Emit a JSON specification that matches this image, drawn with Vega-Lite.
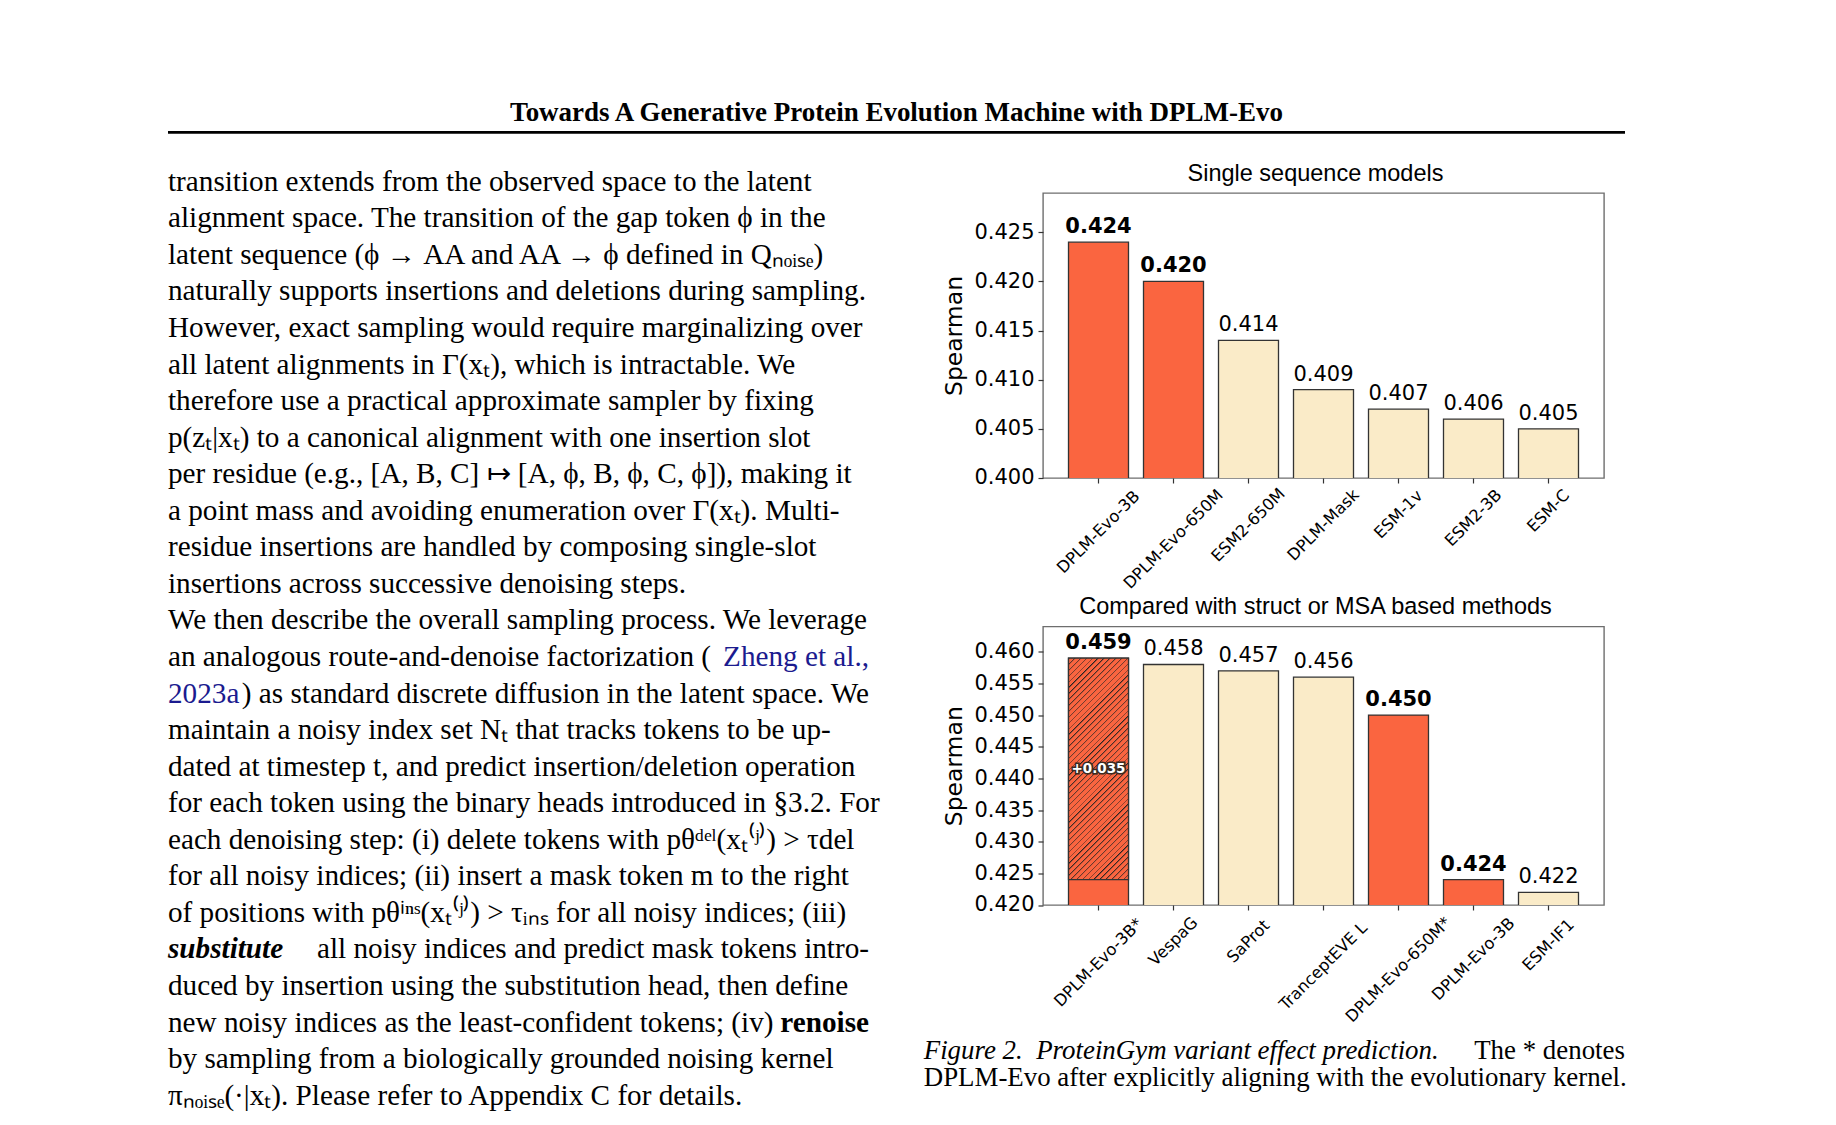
{
  "$schema": "https://vega.github.io/schema/vega-lite/v6.json",
  "autosize": {"type": "pad"},
  "padding": {"left": 166, "top": 92.3, "right": 10, "bottom": 10},
  "background": "white",
  "datasets": {
    "header": [{"text": "Towards A Generative Protein Evolution Machine with DPLM-Evo"}],
    "bodyLeft": [
      {"line": 1, "text": "transition extends from the observed space to the latent"},
      {"line": 2, "text": "alignment space. The transition of the gap token ϕ in the"},
      {"line": 3, "text": "latent sequence (ϕ → AA and AA → ϕ defined in Qₙₒᵢₛₑ)"},
      {"line": 4, "text": "naturally supports insertions and deletions during sampling."},
      {"line": 5, "text": "However, exact sampling would require marginalizing over"},
      {"line": 6, "text": "all latent alignments in Γ(xₜ), which is intractable.  We"},
      {"line": 7, "text": "therefore use a practical approximate sampler by fixing"},
      {"line": 8, "text": "p(zₜ|xₜ) to a canonical alignment with one insertion slot"},
      {"line": 9, "text": "per residue (e.g., [A, B, C] ↦ [A, ϕ, B, ϕ, C, ϕ]), making it"},
      {"line": 10, "text": "a point mass and avoiding enumeration over Γ(xₜ). Multi-"},
      {"line": 11, "text": "residue insertions are handled by composing single-slot"},
      {"line": 12, "text": "insertions across successive denoising steps."},
      {"line": 13, "text": "We then describe the overall sampling process. We leverage"},
      {"line": 14, "text": "an analogous route-and-denoise factorization ("},
      {"line": 16, "text": "maintain a noisy index set Nₜ that tracks tokens to be up-"},
      {"line": 17, "text": "dated at timestep t, and predict insertion/deletion operation"},
      {"line": 18, "text": "for each token using the binary heads introduced in §3.2. For"},
      {"line": 19, "text": "each denoising step: (i) delete tokens with pθᵈᵉˡ(xₜ⁽ʲ⁾) > τdel"},
      {"line": 20, "text": "for all noisy indices; (ii) insert a mask token m to the right"},
      {"line": 21, "text": "of positions with pθⁱⁿˢ(xₜ⁽ʲ⁾) > τᵢₙₛ for all noisy indices; (iii)"},
      {"line": 23, "text": "duced by insertion using the substitution head, then define"},
      {"line": 24, "text": "new noisy indices as the least-confident tokens; (iv)"},
      {"line": 25, "text": "by sampling from a biologically grounded noising kernel"},
      {"line": 26, "text": "πₙₒᵢₛₑ(·|xₜ). Please refer to Appendix C for details."}
    ],
    "bodyRight": [
      {"line": 15, "text": ") as standard discrete diffusion in the latent space. We"},
      {"line": 22, "text": "all noisy indices and predict mask tokens intro-"}
    ],
    "linkLeft": [{"line": 15, "text": "2023a"}],
    "linkRight": [{"line": 14, "text": "Zheng et al.,"}],
    "emphLeft": [{"line": 22, "text": "substitute"}],
    "strongRight": [{"line": 24, "text": "renoise"}],
    "captionItalic": [{"line": 1, "text": "Figure 2.\u00a0\u00a0ProteinGym variant effect prediction."}],
    "captionRight": [{"line": 1, "text": "The * denotes"}],
    "captionLeft": [{"line": 2, "text": "DPLM-Evo after explicitly aligning with the evolutionary kernel."}],
    "single": [
      {"model": "DPLM-Evo-3B", "score": 0.424, "group": "ours"},
      {"model": "DPLM-Evo-650M", "score": 0.420, "group": "ours"},
      {"model": "ESM2-650M", "score": 0.414, "group": "other"},
      {"model": "DPLM-Mask", "score": 0.409, "group": "other"},
      {"model": "ESM-1v", "score": 0.407, "group": "other"},
      {"model": "ESM2-3B", "score": 0.406, "group": "other"},
      {"model": "ESM-C", "score": 0.405, "group": "other"}
    ],
    "struct": [
      {"model": "DPLM-Evo-3B*", "score": 0.459, "group": "ours"},
      {"model": "VespaG", "score": 0.458, "group": "other"},
      {"model": "SaProt", "score": 0.457, "group": "other"},
      {"model": "TranceptEVE L", "score": 0.456, "group": "other"},
      {"model": "DPLM-Evo-650M*", "score": 0.450, "group": "ours"},
      {"model": "DPLM-Evo-3B", "score": 0.424, "group": "ours"},
      {"model": "ESM-IF1", "score": 0.422, "group": "other"}
    ],
    "gain": [{"model": "DPLM-Evo-3B*", "low": 0.424, "high": 0.459, "label": "+0.035"}]
  },
  "bounds": "flush",
  "spacing": 60.7,
  "vconcat": [
    {
      "width": 1457,
      "height": 40,
      "view": {"stroke": null},
      "data": {"name": "header"},
      "layer": [
        {
          "mark": {"type": "text", "font": "Liberation Serif", "fontSize": 27, "fontWeight": "bold", "baseline": "alphabetic", "align": "center", "color": "#000"},
          "encoding": {
            "text": {"field": "text", "type": "nominal"},
            "x": {"datum": 0.5, "type": "quantitative", "scale": {"domain": [0, 1], "nice": false, "zero": false}, "axis": null},
            "y": {"datum": 0.29, "type": "quantitative", "scale": {"domain": [0, 1], "nice": false, "zero": false}, "axis": null}
          }
        },
        {
          "mark": {"type": "rule", "strokeWidth": 2.7, "color": "#000"},
          "encoding": {
            "y": {"datum": 0, "type": "quantitative"}
          }
        }
      ]
    },
    {
      "bounds": "flush",
      "spacing": 174,
      "hconcat": [
        {
          "width": 701,
          "height": 910,
          "view": {"stroke": null},
          "layer": [
            {
              "data": {"name": "bodyLeft"},
              "mark": {"type": "text", "font": "Liberation Serif", "fontSize": 29.2, "align": "left", "baseline": "alphabetic", "color": "#000"},
              "encoding": {
                "text": {"field": "text", "type": "nominal"},
                "x": {"datum": 0, "type": "quantitative", "scale": {"domain": [0, 1], "nice": false, "zero": false}, "axis": null},
                "y": {"field": "line", "type": "quantitative", "scale": {"domain": [1.0629, 25.953], "reverse": true, "nice": false, "zero": false}, "axis": null}
              }
            },
            {
              "data": {"name": "bodyRight"},
              "mark": {"type": "text", "font": "Liberation Serif", "fontSize": 29.2, "align": "right", "baseline": "alphabetic", "color": "#000"},
              "encoding": {
                "text": {"field": "text", "type": "nominal"},
                "x": {"datum": 1, "type": "quantitative"},
                "y": {"field": "line", "type": "quantitative"}
              }
            },
            {
              "data": {"name": "linkLeft"},
              "mark": {"type": "text", "font": "Liberation Serif", "fontSize": 29.2, "align": "left", "baseline": "alphabetic", "color": "#1b1b8f"},
              "encoding": {
                "text": {"field": "text", "type": "nominal"},
                "x": {"datum": 0, "type": "quantitative"},
                "y": {"field": "line", "type": "quantitative"}
              }
            },
            {
              "data": {"name": "linkRight"},
              "mark": {"type": "text", "font": "Liberation Serif", "fontSize": 29.2, "align": "right", "baseline": "alphabetic", "color": "#1b1b8f"},
              "encoding": {
                "text": {"field": "text", "type": "nominal"},
                "x": {"datum": 1, "type": "quantitative"},
                "y": {"field": "line", "type": "quantitative"}
              }
            },
            {
              "data": {"name": "emphLeft"},
              "mark": {"type": "text", "font": "Liberation Serif", "fontSize": 29.2, "fontStyle": "italic", "fontWeight": "bold", "align": "left", "baseline": "alphabetic", "color": "#000"},
              "encoding": {
                "text": {"field": "text", "type": "nominal"},
                "x": {"datum": 0, "type": "quantitative"},
                "y": {"field": "line", "type": "quantitative"}
              }
            },
            {
              "data": {"name": "strongRight"},
              "mark": {"type": "text", "font": "Liberation Serif", "fontSize": 29.2, "fontWeight": "bold", "align": "right", "baseline": "alphabetic", "color": "#000"},
              "encoding": {
                "text": {"field": "text", "type": "nominal"},
                "x": {"datum": 1, "type": "quantitative"},
                "y": {"field": "line", "type": "quantitative"}
              }
            }
          ]
        },
        {
          "bounds": "flush",
          "spacing": 148.5,
          "vconcat": [
            {
              "width": 561,
              "height": 285,
              "title": {"text": "Single sequence models"},
              "data": {"name": "single"},
              "layer": [
                {
                  "mark": {"type": "bar", "clip": true, "stroke": "#333", "strokeWidth": 1.3},
                  "encoding": {
                    "x": {"field": "model", "type": "nominal", "sort": null,
                          "scale": {"domain": ["DPLM-Evo-3B", "DPLM-Evo-650M", "ESM2-650M", "DPLM-Mask", "ESM-1v", "ESM2-3B", "ESM-C"], "paddingInner": 0.2, "paddingOuter": 0.34},
                          "axis": {"labels": false, "title": null, "ticks": true, "tickSize": 5, "domain": false}},
                    "y": {"field": "score", "type": "quantitative",
                          "scale": {"domain": [0.4, 0.429], "nice": false, "zero": false},
                          "axis": {"values": [0.4, 0.405, 0.41, 0.415, 0.42, 0.425], "tickCount": 20, "format": ".3f", "title": "Spearman"}},
                    "color": {"field": "group", "type": "nominal", "scale": {"domain": ["ours", "other"], "range": ["#FA6540", "#FAEBC8"]}, "legend": null}
                  }
                },
                {
                  "transform": [{"filter": "datum.group == 'ours'"}],
                  "mark": {"type": "text", "font": "DejaVu Sans", "fontSize": 21, "fontWeight": "bold", "baseline": "alphabetic", "dy": -9, "color": "#000"},
                  "encoding": {
                    "x": {"field": "model", "type": "nominal", "sort": null},
                    "y": {"field": "score", "type": "quantitative"},
                    "text": {"field": "score", "type": "quantitative", "format": ".3f"}
                  }
                },
                {
                  "transform": [{"filter": "datum.group != 'ours'"}],
                  "mark": {"type": "text", "font": "DejaVu Sans", "fontSize": 21, "baseline": "alphabetic", "dy": -9, "color": "#000"},
                  "encoding": {
                    "x": {"field": "model", "type": "nominal", "sort": null},
                    "y": {"field": "score", "type": "quantitative"},
                    "text": {"field": "score", "type": "quantitative", "format": ".3f"}
                  }
                },
                {
                  "mark": {"type": "text", "font": "DejaVu Sans", "fontSize": 16.3, "angle": 315, "align": "center", "baseline": "middle", "color": "#000",
                           "dx": {"expr": "-(10.9 + 2.5 * length(datum.model))"},
                           "dy": {"expr": "10.9 + 2.5 * length(datum.model)"}},
                  "encoding": {
                    "x": {"field": "model", "type": "nominal", "sort": null},
                    "y": {"datum": 0.4, "type": "quantitative"},
                    "text": {"field": "model", "type": "nominal"}
                  }
                }
              ]
            },
            {
              "width": 561,
              "height": 278.5,
              "title": {"text": "Compared with struct or MSA based methods"},
              "data": {"name": "struct"},
              "layer": [
                {
                  "mark": {"type": "bar", "clip": true, "stroke": "#333", "strokeWidth": 1.3},
                  "encoding": {
                    "x": {"field": "model", "type": "nominal", "sort": null,
                          "scale": {"domain": ["DPLM-Evo-3B*", "VespaG", "SaProt", "TranceptEVE L", "DPLM-Evo-650M*", "DPLM-Evo-3B", "ESM-IF1"], "paddingInner": 0.2, "paddingOuter": 0.34},
                          "axis": {"labels": false, "title": null, "ticks": true, "tickSize": 5, "domain": false}},
                    "y": {"field": "score", "type": "quantitative",
                          "scale": {"domain": [0.42, 0.464], "nice": false, "zero": false},
                          "axis": {"values": [0.42, 0.425, 0.43, 0.435, 0.44, 0.445, 0.45, 0.455, 0.46], "tickCount": 20, "format": ".3f", "title": "Spearman"}},
                    "color": {"field": "group", "type": "nominal", "scale": {"domain": ["ours", "other"], "range": ["#FA6540", "#FAEBC8"]}, "legend": null}
                  }
                },
                {
                  "data": {"name": "gain"},
                  "mark": {"type": "bar", "clip": true, "stroke": "#333", "strokeWidth": 1.3,
                           "fill": {"gradient": "linear", "x1": 0, "y1": 0, "x2": 0.3207, "y2": 1.184, "stops": [
                             {"offset": 0, "color": "#222"}, {"offset": 0.0065, "color": "#FA6540"}, {"offset": 0.0208, "color": "#FA6540"},
                             {"offset": 0.0208, "color": "#222"}, {"offset": 0.0273, "color": "#FA6540"}, {"offset": 0.0417, "color": "#FA6540"},
                             {"offset": 0.0417, "color": "#222"}, {"offset": 0.0482, "color": "#FA6540"}, {"offset": 0.0625, "color": "#FA6540"},
                             {"offset": 0.0625, "color": "#222"}, {"offset": 0.069, "color": "#FA6540"}, {"offset": 0.0833, "color": "#FA6540"},
                             {"offset": 0.0833, "color": "#222"}, {"offset": 0.0898, "color": "#FA6540"}, {"offset": 0.1042, "color": "#FA6540"},
                             {"offset": 0.1042, "color": "#222"}, {"offset": 0.1107, "color": "#FA6540"}, {"offset": 0.125, "color": "#FA6540"},
                             {"offset": 0.125, "color": "#222"}, {"offset": 0.1315, "color": "#FA6540"}, {"offset": 0.1458, "color": "#FA6540"},
                             {"offset": 0.1458, "color": "#222"}, {"offset": 0.1523, "color": "#FA6540"}, {"offset": 0.1667, "color": "#FA6540"},
                             {"offset": 0.1667, "color": "#222"}, {"offset": 0.1732, "color": "#FA6540"}, {"offset": 0.1875, "color": "#FA6540"},
                             {"offset": 0.1875, "color": "#222"}, {"offset": 0.194, "color": "#FA6540"}, {"offset": 0.2083, "color": "#FA6540"},
                             {"offset": 0.2083, "color": "#222"}, {"offset": 0.2148, "color": "#FA6540"}, {"offset": 0.2292, "color": "#FA6540"},
                             {"offset": 0.2292, "color": "#222"}, {"offset": 0.2357, "color": "#FA6540"}, {"offset": 0.25, "color": "#FA6540"},
                             {"offset": 0.25, "color": "#222"}, {"offset": 0.2565, "color": "#FA6540"}, {"offset": 0.2708, "color": "#FA6540"},
                             {"offset": 0.2708, "color": "#222"}, {"offset": 0.2773, "color": "#FA6540"}, {"offset": 0.2917, "color": "#FA6540"},
                             {"offset": 0.2917, "color": "#222"}, {"offset": 0.2982, "color": "#FA6540"}, {"offset": 0.3125, "color": "#FA6540"},
                             {"offset": 0.3125, "color": "#222"}, {"offset": 0.319, "color": "#FA6540"}, {"offset": 0.3333, "color": "#FA6540"},
                             {"offset": 0.3333, "color": "#222"}, {"offset": 0.3398, "color": "#FA6540"}, {"offset": 0.3542, "color": "#FA6540"},
                             {"offset": 0.3542, "color": "#222"}, {"offset": 0.3607, "color": "#FA6540"}, {"offset": 0.375, "color": "#FA6540"},
                             {"offset": 0.375, "color": "#222"}, {"offset": 0.3815, "color": "#FA6540"}, {"offset": 0.3958, "color": "#FA6540"},
                             {"offset": 0.3958, "color": "#222"}, {"offset": 0.4023, "color": "#FA6540"}, {"offset": 0.4167, "color": "#FA6540"},
                             {"offset": 0.4167, "color": "#222"}, {"offset": 0.4232, "color": "#FA6540"}, {"offset": 0.4375, "color": "#FA6540"},
                             {"offset": 0.4375, "color": "#222"}, {"offset": 0.444, "color": "#FA6540"}, {"offset": 0.4583, "color": "#FA6540"},
                             {"offset": 0.4583, "color": "#222"}, {"offset": 0.4648, "color": "#FA6540"}, {"offset": 0.4792, "color": "#FA6540"},
                             {"offset": 0.4792, "color": "#222"}, {"offset": 0.4857, "color": "#FA6540"}, {"offset": 0.5, "color": "#FA6540"},
                             {"offset": 0.5, "color": "#222"}, {"offset": 0.5065, "color": "#FA6540"}, {"offset": 0.5208, "color": "#FA6540"},
                             {"offset": 0.5208, "color": "#222"}, {"offset": 0.5273, "color": "#FA6540"}, {"offset": 0.5417, "color": "#FA6540"},
                             {"offset": 0.5417, "color": "#222"}, {"offset": 0.5482, "color": "#FA6540"}, {"offset": 0.5625, "color": "#FA6540"},
                             {"offset": 0.5625, "color": "#222"}, {"offset": 0.569, "color": "#FA6540"}, {"offset": 0.5833, "color": "#FA6540"},
                             {"offset": 0.5833, "color": "#222"}, {"offset": 0.5898, "color": "#FA6540"}, {"offset": 0.6042, "color": "#FA6540"},
                             {"offset": 0.6042, "color": "#222"}, {"offset": 0.6107, "color": "#FA6540"}, {"offset": 0.625, "color": "#FA6540"},
                             {"offset": 0.625, "color": "#222"}, {"offset": 0.6315, "color": "#FA6540"}, {"offset": 0.6458, "color": "#FA6540"},
                             {"offset": 0.6458, "color": "#222"}, {"offset": 0.6523, "color": "#FA6540"}, {"offset": 0.6667, "color": "#FA6540"},
                             {"offset": 0.6667, "color": "#222"}, {"offset": 0.6732, "color": "#FA6540"}, {"offset": 0.6875, "color": "#FA6540"},
                             {"offset": 0.6875, "color": "#222"}, {"offset": 0.694, "color": "#FA6540"}, {"offset": 0.7083, "color": "#FA6540"},
                             {"offset": 0.7083, "color": "#222"}, {"offset": 0.7148, "color": "#FA6540"}, {"offset": 0.7292, "color": "#FA6540"},
                             {"offset": 0.7292, "color": "#222"}, {"offset": 0.7357, "color": "#FA6540"}, {"offset": 0.75, "color": "#FA6540"},
                             {"offset": 0.75, "color": "#222"}, {"offset": 0.7565, "color": "#FA6540"}, {"offset": 0.7708, "color": "#FA6540"},
                             {"offset": 0.7708, "color": "#222"}, {"offset": 0.7773, "color": "#FA6540"}, {"offset": 0.7917, "color": "#FA6540"},
                             {"offset": 0.7917, "color": "#222"}, {"offset": 0.7982, "color": "#FA6540"}, {"offset": 0.8125, "color": "#FA6540"},
                             {"offset": 0.8125, "color": "#222"}, {"offset": 0.819, "color": "#FA6540"}, {"offset": 0.8333, "color": "#FA6540"},
                             {"offset": 0.8333, "color": "#222"}, {"offset": 0.8398, "color": "#FA6540"}, {"offset": 0.8542, "color": "#FA6540"},
                             {"offset": 0.8542, "color": "#222"}, {"offset": 0.8607, "color": "#FA6540"}, {"offset": 0.875, "color": "#FA6540"},
                             {"offset": 0.875, "color": "#222"}, {"offset": 0.8815, "color": "#FA6540"}, {"offset": 0.8958, "color": "#FA6540"},
                             {"offset": 0.8958, "color": "#222"}, {"offset": 0.9023, "color": "#FA6540"}, {"offset": 0.9167, "color": "#FA6540"},
                             {"offset": 0.9167, "color": "#222"}, {"offset": 0.9232, "color": "#FA6540"}, {"offset": 0.9375, "color": "#FA6540"},
                             {"offset": 0.9375, "color": "#222"}, {"offset": 0.944, "color": "#FA6540"}, {"offset": 0.9583, "color": "#FA6540"},
                             {"offset": 0.9583, "color": "#222"}, {"offset": 0.9648, "color": "#FA6540"}, {"offset": 0.9792, "color": "#FA6540"},
                             {"offset": 0.9792, "color": "#222"}, {"offset": 0.9857, "color": "#FA6540"}, {"offset": 1, "color": "#FA6540"}
                           ]}},
                  "encoding": {
                    "x": {"field": "model", "type": "nominal", "sort": null},
                    "y": {"field": "high", "type": "quantitative"},
                    "y2": {"field": "low"}
                  }
                },
                {
                  "transform": [{"filter": "datum.group == 'ours'"}],
                  "mark": {"type": "text", "font": "DejaVu Sans", "fontSize": 21, "fontWeight": "bold", "baseline": "alphabetic", "dy": -9, "color": "#000"},
                  "encoding": {
                    "x": {"field": "model", "type": "nominal", "sort": null},
                    "y": {"field": "score", "type": "quantitative"},
                    "text": {"field": "score", "type": "quantitative", "format": ".3f"}
                  }
                },
                {
                  "transform": [{"filter": "datum.group != 'ours'"}],
                  "mark": {"type": "text", "font": "DejaVu Sans", "fontSize": 21, "baseline": "alphabetic", "dy": -9, "color": "#000"},
                  "encoding": {
                    "x": {"field": "model", "type": "nominal", "sort": null},
                    "y": {"field": "score", "type": "quantitative"},
                    "text": {"field": "score", "type": "quantitative", "format": ".3f"}
                  }
                },
                {
                  "data": {"name": "gain"},
                  "mark": {"type": "text", "font": "DejaVu Sans", "fontSize": 13.5, "fontWeight": "bold", "baseline": "middle", "align": "center", "color": "#3a2a22", "stroke": "#3a2a22", "strokeWidth": 3.2},
                  "encoding": {
                    "x": {"field": "model", "type": "nominal", "sort": null},
                    "y": {"datum": 0.4415, "type": "quantitative"},
                    "text": {"field": "label", "type": "nominal"}
                  }
                },
                {
                  "data": {"name": "gain"},
                  "mark": {"type": "text", "font": "DejaVu Sans", "fontSize": 13.5, "fontWeight": "bold", "baseline": "middle", "align": "center", "color": "#ffffff"},
                  "encoding": {
                    "x": {"field": "model", "type": "nominal", "sort": null},
                    "y": {"datum": 0.4415, "type": "quantitative"},
                    "text": {"field": "label", "type": "nominal"}
                  }
                },
                {
                  "mark": {"type": "text", "font": "DejaVu Sans", "fontSize": 16.3, "angle": 315, "align": "center", "baseline": "middle", "color": "#000",
                           "dx": {"expr": "-(10.9 + 2.5 * length(datum.model))"},
                           "dy": {"expr": "10.9 + 2.5 * length(datum.model)"}},
                  "encoding": {
                    "x": {"field": "model", "type": "nominal", "sort": null},
                    "y": {"datum": 0.42, "type": "quantitative"},
                    "text": {"field": "model", "type": "nominal"}
                  }
                }
              ]
            },
            {
              "width": 561,
              "height": 60,
              "view": {"stroke": null},
              "layer": [
                {
                  "data": {"name": "captionItalic"},
                  "mark": {"type": "text", "font": "Liberation Serif", "fontSize": 26.9, "fontStyle": "italic", "align": "left", "baseline": "alphabetic", "color": "#000"},
                  "encoding": {
                    "text": {"field": "text", "type": "nominal"},
                    "x": {"datum": 0, "type": "quantitative", "scale": {"domain": [0.1701, 0.9701], "nice": false, "zero": false}, "axis": null},
                    "y": {"field": "line", "type": "quantitative", "scale": {"domain": [0.8127, 3.0599], "reverse": true, "nice": false, "zero": false}, "axis": null}
                  }
                },
                {
                  "data": {"name": "captionRight"},
                  "mark": {"type": "text", "font": "Liberation Serif", "fontSize": 26.9, "align": "right", "baseline": "alphabetic", "color": "#000"},
                  "encoding": {
                    "text": {"field": "text", "type": "nominal"},
                    "x": {"datum": 1, "type": "quantitative"},
                    "y": {"field": "line", "type": "quantitative"}
                  }
                },
                {
                  "data": {"name": "captionLeft"},
                  "mark": {"type": "text", "font": "Liberation Serif", "fontSize": 26.9, "align": "left", "baseline": "alphabetic", "color": "#000"},
                  "encoding": {
                    "text": {"field": "text", "type": "nominal"},
                    "x": {"datum": 0, "type": "quantitative"},
                    "y": {"field": "line", "type": "quantitative"}
                  }
                }
              ]
            }
          ]
        }
      ]
    }
  ],
  "config": {
    "background": "white",
    "view": {"stroke": "#6e6e6e", "strokeWidth": 1.4},
    "axis": {
      "grid": false, "domain": false, "labelOverlap": false,
      "tickColor": "#333", "tickWidth": 1.2, "tickSize": 5,
      "labelColor": "#000", "labelFont": "DejaVu Sans", "labelFontSize": 21, "labelPadding": 4,
      "titleFont": "DejaVu Sans", "titleFontSize": 23.5, "titleFontWeight": "normal", "titleColor": "#000", "titlePadding": 7
    },
    "title": {"font": "Liberation Sans", "fontSize": 23.5, "fontWeight": "normal", "color": "#000", "baseline": "alphabetic", "offset": 7.5, "frame": "group", "anchor": "middle", "dx": -8}
  }
}
